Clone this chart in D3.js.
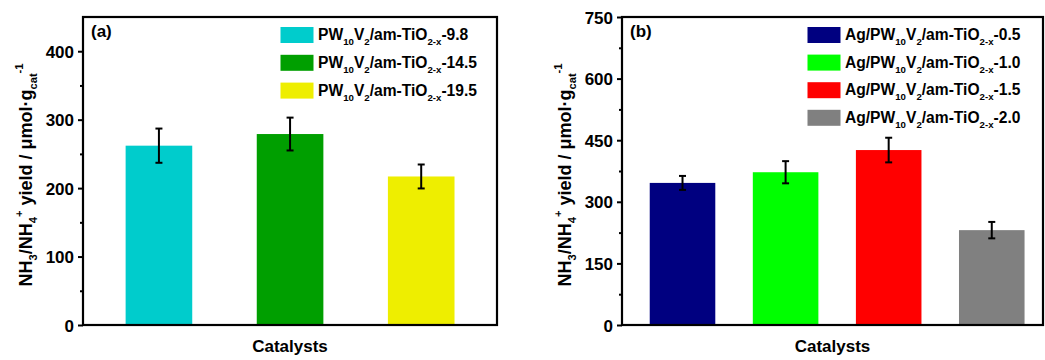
<!DOCTYPE html>
<html>
<head>
<meta charset="utf-8">
<script src="https://cdn.jsdelivr.net/npm/d3@7"></script>
<style>
  body { margin: 0; background: #fff; }
  svg { display: block; font-family: "Liberation Sans", Arial, sans-serif; font-weight: bold; }
</style>
</head>
<body>
<svg id="chart" width="1045" height="360"></svg>
<script>
// DATA PANEL (a)
var labelsA = ["PW_{10}V_{2}/am-TiO_{2-x}-9.8", "PW_{10}V_{2}/am-TiO_{2-x}-14.5", "PW_{10}V_{2}/am-TiO_{2-x}-19.5"];
var valuesA = [262, 279, 217];
var errorsA = [25, 24, 17.5];
var colorsA = ["#00cccc", "#009f00", "#eeee00"];
var ticksA = [0, 100, 200, 300, 400];
var minorA = [50, 150, 250, 350];

// DATA PANEL (b)
var labelsB = ["Ag/PW_{10}V_{2}/am-TiO_{2-x}-0.5", "Ag/PW_{10}V_{2}/am-TiO_{2-x}-1.0", "Ag/PW_{10}V_{2}/am-TiO_{2-x}-1.5", "Ag/PW_{10}V_{2}/am-TiO_{2-x}-2.0"];
var valuesB = [346, 372, 426, 231];
var errorsB = [17, 27, 30, 20];
var colorsB = ["#000080", "#00ff00", "#ff0000", "#808080"];
var ticksB = [0, 150, 300, 450, 600, 750];
var minorB = [75, 225, 375, 525, 675];

var yTitle = "NH_{3}/NH_{4}^{+} yield / \u03bcmol\u00b7g_{cat}^{-1}";
var xTitle = "Catalysts";

var svg = d3.select("#chart");

// TEXT WITH SUB / SUPERSCRIPTS
function richText(sel, str, size) {
	var re = /(_|\^)\{([^}]*)\}/g;
	var parts = [];
	var last = 0, m;
	while ((m = re.exec(str)) !== null) {
		if (m.index > last) parts.push({t: str.slice(last, m.index), k: "n"});
		parts.push({t: m[2], k: m[1] == "_" ? "sub" : "sup"});
		last = re.lastIndex;
	}
	if (last < str.length) parts.push({t: str.slice(last), k: "n"});
	var cur = 0;
	parts.forEach(function(p) {
		var target = p.k == "sub" ? size * 0.32 : (p.k == "sup" ? -size * 0.5 : 0);
		sel.append("tspan")
			.attr("dy", target - cur)
			.style("font-size", (p.k == "n" ? size : size * 0.62) + "px")
			.text(p.t);
		cur = target;
	});
}

function drawPanel(opt) {
	var left = opt.left, right = opt.right, top = 17, bottom = 325;

	var y = d3.scaleLinear().domain([0, opt.ymax]).range([bottom, top]);
	var x = d3.scaleLinear().domain(opt.xdom).range([left, right]);

	var g = svg.append("g");

	// BARS
	g.selectAll("rect.bar")
		.data(opt.values)
		.enter()
		.append("rect")
		.attr("class", "bar")
		.attr("x", (d, i) => x(i + 1 - opt.bw / 2))
		.attr("width", (d, i) => x(i + 1 + opt.bw / 2) - x(i + 1 - opt.bw / 2))
		.attr("y", d => y(d))
		.attr("height", d => y(0) - y(d))
		.style("fill", (d, i) => opt.colors[i]);

	// ERROR BARS
	var err = g.selectAll("g.err")
		.data(opt.values)
		.enter()
		.append("g")
		.attr("class", "err")
		.style("stroke", "#000")
		.style("stroke-width", 2);
	err.append("line")
		.attr("x1", (d, i) => x(i + 1)).attr("x2", (d, i) => x(i + 1))
		.attr("y1", (d, i) => y(d - opt.errors[i]))
		.attr("y2", (d, i) => y(d + opt.errors[i]));
	err.append("line")
		.attr("x1", (d, i) => x(i + 1) - 3.5).attr("x2", (d, i) => x(i + 1) + 3.5)
		.attr("y1", (d, i) => y(d + opt.errors[i]))
		.attr("y2", (d, i) => y(d + opt.errors[i]));
	err.append("line")
		.attr("x1", (d, i) => x(i + 1) - 3.5).attr("x2", (d, i) => x(i + 1) + 3.5)
		.attr("y1", (d, i) => y(d - opt.errors[i]))
		.attr("y2", (d, i) => y(d - opt.errors[i]));

	// AXES
	var major = g.append("g")
		.attr("transform", "translate(" + left + ",0)")
		.call(d3.axisLeft(y).tickValues(opt.ticks).tickSize(5).tickPadding(4));
	major.select(".domain").remove();
	major.selectAll("line").style("stroke-width", 2);
	major.selectAll("text")
		.style("font-size", "17px")
		.style("font-family", "'Liberation Sans', Arial, sans-serif")
		.style("font-weight", "bold")
		.attr("dy", "0.36em");

	var minor = g.append("g")
		.attr("transform", "translate(" + left + ",0)")
		.call(d3.axisLeft(y).tickValues(opt.minor).tickSize(3).tickFormat(""));
	minor.select(".domain").remove();
	minor.selectAll("line").style("stroke-width", 2);

	// FRAME
	g.append("rect")
		.attr("x", left).attr("y", top)
		.attr("width", right - left).attr("height", bottom - top)
		.style("fill", "none")
		.style("stroke", "#000")
		.style("stroke-width", 2.2);

	// PANEL LABEL
	g.append("text")
		.attr("x", left + 8).attr("y", 37)
		.style("font-size", "17px")
		.text(opt.tag);

	// LEGEND
	var leg = g.selectAll("g.leg")
		.data(opt.labels)
		.enter()
		.append("g")
		.attr("class", "leg")
		.attr("transform", (d, i) => "translate(" + opt.legX + "," + (27 + i * opt.legStep) + ")");
	leg.append("rect")
		.attr("width", 33).attr("height", 16)
		.style("fill", (d, i) => opt.colors[i]);
	leg.append("text")
		.attr("x", 37.5).attr("y", 13)
		.each(function(d) { richText(d3.select(this), d, 15.6); });

	// TITLES
	g.append("text")
		.attr("x", (left + right) / 2).attr("y", 352)
		.attr("text-anchor", "middle")
		.style("font-size", "17px")
		.text(xTitle);

	var yt = g.append("text")
		.attr("text-anchor", "middle")
		.attr("transform", "translate(" + (left - 51.5) + "," + ((top + bottom) / 2 + 4) + ") rotate(-90)");
	richText(yt, yTitle, 18);
}

drawPanel({
	left: 83, right: 497, ymax: 450, xdom: [0.421, 3.578], bw: 0.508,
	values: valuesA, errors: errorsA, colors: colorsA, labels: labelsA,
	ticks: ticksA, minor: minorA, tag: "(a)", legX: 280.5, legStep: 27.8
});

drawPanel({
	left: 622, right: 1043, ymax: 750, xdom: [0.413, 4.497], bw: 0.636,
	values: valuesB, errors: errorsB, colors: colorsB, labels: labelsB,
	ticks: ticksB, minor: minorB, tag: "(b)", legX: 807.5, legStep: 27.6
});
</script>
</body>
</html>
